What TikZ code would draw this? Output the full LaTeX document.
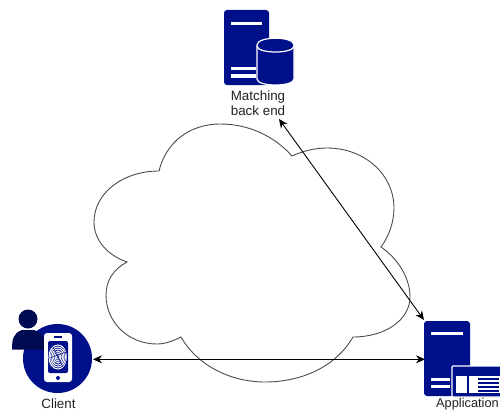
\documentclass[tikz,border=0pt]{standalone}
\usepackage{fontspec}
\setmainfont{Liberation Sans}
\usetikzlibrary{arrows.meta}
\definecolor{navy}{HTML}{00108A}
\definecolor{navyd}{HTML}{000A50}
\definecolor{lbl}{HTML}{222222}
\tikzset{
  x=1pt,y=-1pt,
  lbl/.style={font=\fontsize{13.4}{15}\selectfont,text=lbl,inner sep=0pt,align=center},
  link/.style={draw=black,line width=0.9pt,{Stealth[length=9pt,width=8pt]}-{Stealth[length=9pt,width=8pt]}},
  cloudline/.style={draw=black!70,line width=0.9pt,line join=miter},
  srv/.style={fill=navy,rounded corners=3pt},
  bar/.style={fill=white},
}
\begin{document}
\begin{tikzpicture}
\useasboundingbox (0,0) rectangle (500,412);
% cloud
\draw[cloudline] (159,171)
 .. controls (166,142) and (190,124) .. (220,124)
 .. controls (250,124) and (275,137) .. (292,156)
 .. controls (303,151) and (315,148) .. (327,148)
 .. controls (365,148) and (394,175) .. (394,208)
 .. controls (394,222) and (389,236) .. (381,247)
 .. controls (397,258) and (410,277) .. (410,297)
 .. controls (410,320) and (385,337) .. (353,337)
 .. controls (335,368) and (300,382) .. (265,382)
 .. controls (230,382) and (197,365) .. (181,337)
 .. controls (173,341) and (165,344) .. (157,344)
 .. controls (128,344) and (106,322) .. (106,295)
 .. controls (106,280) and (114,269) .. (127,262)
 .. controls (107,255) and (94,240) .. (94,222)
 .. controls (94,193) and (123,171) .. (159,171) -- cycle;
% matching back end icon
\fill[srv] (224,10) rectangle (269,85);
\fill[bar] (231,22) rectangle (262,25);
\fill[bar] (231,67) rectangle (256,70);
\fill[bar] (231,74) rectangle (256,78);
\filldraw[fill=navy,draw=white,line width=1.2pt]
 (257,45) .. controls (257,36) and (294,36) .. (294,45) -- (294,79)
 .. controls (294,87) and (257,87) .. (257,79) -- cycle;
\draw[white,line width=1.2pt] (257,46) .. controls (257,54) and (294,54) .. (294,46);
\node[lbl] (backendlabel) at (258,103) {Matching\\back end};
% client icon
\fill[navy] (57.5,358.5) circle (34.5);
\fill[navyd] (28,319) circle (9.5);
\fill[navyd] (12,349.5) .. controls (12,340) and (13,333) .. (22,330)
 -- (34,330) .. controls (43,333) and (45,340) .. (45,349.5) -- cycle;
\fill[white,rounded corners=3pt] (44,333) rectangle (72,382);
\fill[navy,rounded corners=2pt] (48,341) rectangle (68,373);
\fill[navy] (53.5,336) rectangle (61.5,337.5);
\fill[navy] (58,378) circle (2);
\begin{scope}
\clip (57.5,357) ellipse (9.5 and 13);
\foreach \r in {2,4,...,14}
  \draw[white,line width=1pt] (58,357) ellipse ({\r*0.75} and \r);
\draw[navy,line width=0.5pt] (53,347) -- (63,367) (50,358) -- (66,352);
\end{scope}
\node[lbl] (clientlabel) at (58.5,404) {Client};
% application icon
\fill[srv] (424,321) rectangle (470,396);
\fill[bar] (431,332) rectangle (463,335);
\fill[bar] (431,378) rectangle (450,381);
\fill[bar] (431,385) rectangle (450,388);
\filldraw[fill=navy,draw=white,line width=1.2pt,rounded corners=1pt] (452,366) rectangle (502,397);
\fill[white] (455.5,376) rectangle (467,393);
\fill[white] (469,376) rectangle (500,393);
\fill[navy] (478,378) rectangle (499,380);
\fill[navy] (478,382) rectangle (499,384);
\fill[navy] (478,386) rectangle (499,388);
\fill[navy] (478,390) rectangle (499,392);
\node[lbl,font=\fontsize{12.8}{15}\selectfont] (applabel) at (467.5,404.5) {Application};
% connector ends
\coordinate (backendend) at (279,119);
\coordinate (apptop) at (424,320);
\coordinate (clientend) at (93,359.3);
\coordinate (appleft) at (425,359.3);
\draw[link] (backendend) -- (apptop);
\draw[link] (clientend) -- (appleft);
\end{tikzpicture}
\end{document}
